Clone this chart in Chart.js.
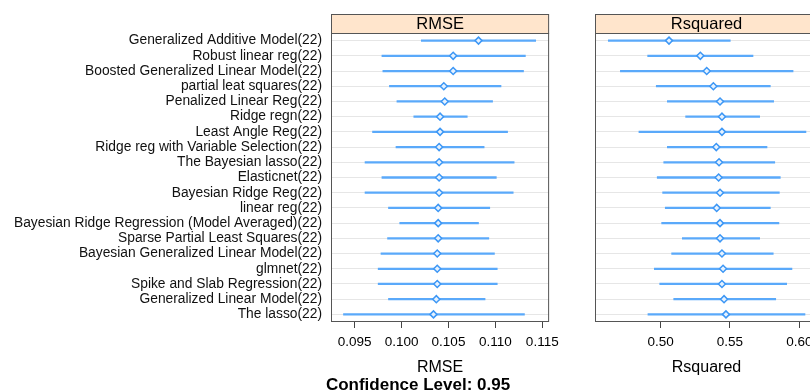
<!DOCTYPE html>
<html>
<head>
<meta charset="utf-8">
<script src="https://cdn.jsdelivr.net/npm/chart.js@4.4.1/dist/chart.umd.min.js"></script>
<style>
  html, body { margin: 0; padding: 0; background: #fff; }
  #wrap { position: relative; width: 810px; height: 391px; overflow: hidden; font-family: "Liberation Sans", Arial, sans-serif; }
  canvas { position: absolute; top: 0; }
  #rmseChart { left: 0; }
  #rsqChart { left: 585px; }
  #sub { position: absolute; left: 268px; top: 376px; width: 300px; text-align: center;
         font: bold 17px "Liberation Sans", Arial, sans-serif; line-height: 18px; color: #000; }
</style>
</head>
<body>
<div id="wrap">
  <canvas id="rmseChart" width="565" height="391"></canvas>
  <canvas id="rsqChart" width="250" height="391"></canvas>
  <div id="sub">Confidence Level: 0.95</div>
</div>
<script>
// model names, top to bottom
const models = [
  'Generalized Additive Model(22)',
  'Robust linear reg(22)',
  'Boosted Generalized Linear Model(22)',
  'partial leat squares(22)',
  'Penalized Linear Reg(22)',
  'Ridge regn(22)',
  'Least Angle Reg(22)',
  'Ridge reg with Variable Selection(22)',
  'The Bayesian lasso(22)',
  'Elasticnet(22)',
  'Bayesian Ridge Reg(22)',
  'linear reg(22)',
  'Bayesian Ridge Regression (Model Averaged)(22)',
  'Sparse Partial Least Squares(22)',
  'Bayesian Generalized Linear Model(22)',
  'glmnet(22)',
  'Spike and Slab Regression(22)',
  'Generalized Linear Model(22)',
  'The lasso(22)'
];

// RMSE: lower bound, estimate, upper bound
const rmseLow  = [0.1021, 0.0979, 0.0980, 0.0987, 0.0995, 0.1013, 0.0969, 0.0994, 0.0961, 0.0979,
                  0.0961, 0.0986, 0.0998, 0.0985, 0.0978, 0.0975, 0.0975, 0.0986, 0.0938];
const rmseMid  = [0.1082, 0.1055, 0.1055, 0.1045, 0.1046, 0.1041, 0.1041, 0.1040, 0.1040, 0.1040,
                  0.1040, 0.1039, 0.1039, 0.1039, 0.1038, 0.1038, 0.1038, 0.1037, 0.1034];
const rmseHigh = [0.1143, 0.1132, 0.1130, 0.1106, 0.1097, 0.1070, 0.1113, 0.1088, 0.1120, 0.1101,
                  0.1119, 0.1094, 0.1082, 0.1093, 0.1099, 0.1102, 0.1102, 0.1089, 0.1131];

// Rsquared: lower bound, estimate, upper bound
const rsqLow  = [0.4622, 0.4906, 0.4709, 0.4968, 0.5048, 0.5180, 0.4843, 0.5048, 0.5022, 0.4975,
                 0.5014, 0.5033, 0.5007, 0.5156, 0.5079, 0.4954, 0.4993, 0.5094, 0.4908];
const rsqMid  = [0.5060, 0.5286, 0.5332, 0.5380, 0.5428, 0.5442, 0.5442, 0.5401, 0.5421, 0.5418,
                 0.5428, 0.5404, 0.5428, 0.5428, 0.5442, 0.5450, 0.5442, 0.5457, 0.5471];
const rsqHigh = [0.5502, 0.5666, 0.5955, 0.5791, 0.5815, 0.5714, 0.6048, 0.5767, 0.5823, 0.5863,
                 0.5856, 0.5791, 0.5853, 0.5714, 0.5812, 0.5947, 0.5909, 0.5830, 0.6041];

// tick labels
const rmseTicks = [0.095, 0.100, 0.105, 0.110, 0.115];
const rsqTicks = [0.50, 0.55, 0.60];

const lineColor = '#5aa9fa';
const pointColor = '#3d97f5';

// strip on top of the panel + panel border
const stripPlugin = {
  id: 'strip',
  afterDraw(chart, args, opts) {
    const {ctx, chartArea: a} = chart;
    ctx.save();
    ctx.fillStyle = '#ffe5cc';
    ctx.fillRect(a.left, 14, a.right - a.left, a.top - 14);
    ctx.strokeStyle = '#555555';
    ctx.lineWidth = 1;
    ctx.strokeRect(a.left + 0.5, 14.5, a.right - a.left - 1, a.top - 14);
    ctx.strokeRect(a.left + 0.5, a.top + 0.5, a.right - a.left - 1, a.bottom - a.top - 1);
    ctx.fillStyle = '#000';
    ctx.font = '16.5px "Liberation Sans", Arial, sans-serif';
    ctx.textAlign = 'center';
    ctx.textBaseline = 'middle';
    ctx.fillText(opts.text, (a.left + a.right) / 2, (14 + a.top) / 2 + 1);
    ctx.restore();
  }
};

function makePanel(id, name, low, mid, high, min, max, ticks, decimals, showLabels, pad) {
  const ctx = document.getElementById(id).getContext('2d');
  return new Chart(ctx, {
    type: 'bar',
    data: {
      labels: models,
      datasets: [{
        type: 'line',
        data: mid.map((v, i) => ({x: v, y: models[i]})),
        showLine: false,
        pointStyle: 'rectRot',
        pointRadius: 3.5,
        pointBorderWidth: 1.5,
        pointBorderColor: pointColor,
        pointBackgroundColor: '#e6f2ff',
        order: 1
      }, {
        data: low.map((v, i) => [v, high[i]]),
        backgroundColor: lineColor,
        barThickness: 1.6,
        order: 2
      }]
    },
    options: {
      indexAxis: 'y',
      responsive: false,
      animation: false,
      events: [],
      layout: {padding: pad},
      plugins: {
        legend: {display: false},
        tooltip: {enabled: false},
        strip: {text: name}
      },
      scales: {
        x: {
          type: 'linear',
          min: min,
          max: max,
          afterBuildTicks: s => { s.ticks = ticks.map(v => ({value: v})); },
          afterFit: s => { s.height = 69; },
          grid: {drawOnChartArea: false, drawTicks: true, tickLength: 6, color: '#444'},
          border: {display: false},
          ticks: {
            color: '#000',
            padding: 6,
            maxRotation: 0,
            font: {size: 13.5, family: '"Liberation Sans", Arial, sans-serif'},
            callback: v => Number(v).toFixed(decimals)
          },
          title: {
            display: true,
            text: name,
            color: '#000',
            padding: {top: 0, bottom: 14},
            font: {size: 16, family: '"Liberation Sans", Arial, sans-serif'}
          }
        },
        y: {
          type: 'category',
          afterFit: s => { s.width = showLabels ? 331 : 0; },
          grid: {offset: false, drawTicks: false, color: '#e6e6e6'},
          border: {display: false},
          ticks: {
            display: showLabels,
            color: '#111',
            padding: 9,
            autoSkip: false,
            font: {size: 13.8, family: '"Liberation Sans", Arial, sans-serif'}
          }
        }
      }
    },
    plugins: [stripPlugin]
  });
}

makePanel('rmseChart', 'RMSE', rmseLow, rmseMid, rmseHigh, 0.09247, 0.11573, rmseTicks, 3, true,
  {top: 33, right: 11, left: 0, bottom: 0});
makePanel('rsqChart', 'Rsquared', rsqLow, rsqMid, rsqHigh, 0.4526, 0.6135, rsqTicks, 2, false,
  {top: 33, right: 17, left: 10, bottom: 0});
</script>
</body>
</html>
